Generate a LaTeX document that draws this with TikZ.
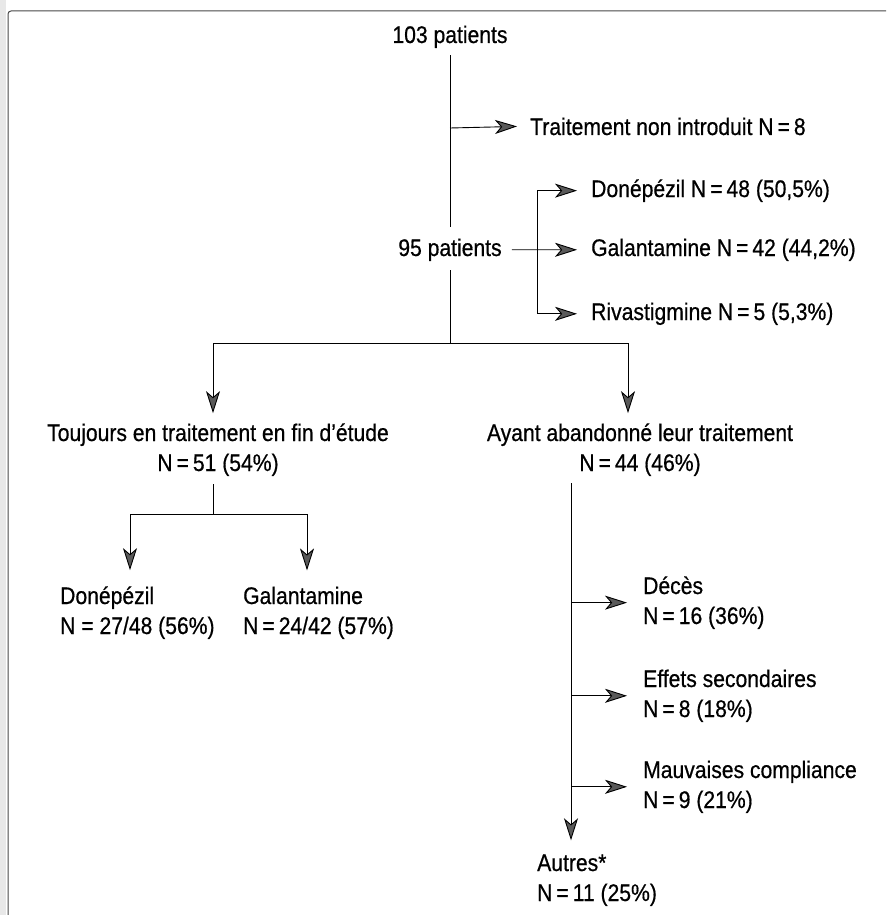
\documentclass[tikz,border=0pt]{standalone}
\usepackage{fontspec}
\setmainfont[FakeStretch=0.88,FakeBold=0.6]{Liberation Sans}
\usetikzlibrary{arrows.meta}
\tikzset{
  txt/.style={font=\fontsize{24}{30}\selectfont, inner sep=0pt},
  conn/.style={line width=0.9pt, draw=black},
  arr/.style={conn, -{Stealth[length=22pt,width=14pt,inset=6pt,fill=black!65]}},
  frame/.style={draw=gray!55!black, line width=1pt, rounded corners=3pt}
}
\begin{document}
\begin{tikzpicture}[x=1pt,y=-1pt]
\useasboundingbox (0,0) rectangle (886,915);
\fill[gray!18] (0,0) rectangle (6,915);
\draw[frame] (8,915) -- (8,11) -- (886,11);

% nodes (two-line nodes are placed by the baseline of their last line)
\node[txt, anchor=base] (n103) at (450,43) {103 patients};
\node[txt, anchor=base west] (ntr) at (530,135) {Traitement non introduit N\,=\,8};
\node[txt, anchor=base] (n95) at (450,256) {95 patients};
\node[txt, anchor=base west] (ndon) at (591,197) {Donépézil N\,=\,48 (50,5\%)};
\node[txt, anchor=base west] (ngal) at (591,256) {Galantamine N\,=\,42 (44,2\%)};
\node[txt, anchor=base west] (nriv) at (591,320) {Rivastigmine N\,=\,5 (5,3\%)};
\node[txt, anchor=base, align=center] (ntouj) at (218,471) {Toujours en traitement en fin d’étude\\N\,=\,51 (54\%)};
\node[txt, anchor=base, align=center] (nayant) at (640,471) {Ayant abandonné leur traitement\\N\,=\,44 (46\%)};
\node[txt, anchor=base west, align=left] (ndon2) at (60,634) {Donépézil\\N = 27/48 (56\%)};
\node[txt, anchor=base west, align=left] (ngal2) at (243,634) {Galantamine\\N\,=\,24/42 (57\%)};
\node[txt, anchor=base west, align=left] (ndec) at (643,624) {Décès\\N\,=\,16 (36\%)};
\node[txt, anchor=base west, align=left] (neff) at (643,717) {Effets secondaires\\N\,=\,8 (18\%)};
\node[txt, anchor=base west, align=left] (nmau) at (643,808) {Mauvaises compliance\\N\,=\,9 (21\%)};
\node[txt, anchor=base west, align=left] (naut) at (537,901) {Autres*\\N\,=\,11 (25\%)};

% junctions
\coordinate (jt) at (450,128);
\coordinate (bk) at (537,248);
\coordinate (js) at (450,343);
\coordinate (jl) at (213,514);
\coordinate (rv) at (571,483);

% top trunk
\draw[conn] ([yshift=-7pt]n103.south) -- ([yshift=11pt]n95.north);
\draw[arr] (jt) -- ([xshift=-13pt]ntr.west);

% three treatments
\draw[arr] ([xshift=10pt]n95.east) -- ([xshift=-14pt]ngal.west);
\draw[arr] (bk) |- ([xshift=-14pt]ndon.west);
\draw[arr] (bk) |- ([xshift=-14pt]nriv.west);

% split
\draw[conn] ([yshift=-9pt]n95.south) -- (js);
\draw[arr] (js) -| ([xshift=-5pt,yshift=10pt]ntouj.north);
\draw[arr] (js) -| ([xshift=-12pt,yshift=10pt]nayant.north);

% left sub-branch
\draw[conn] ([xshift=-5pt,yshift=-8pt]ntouj.south) -- (jl);
\draw[arr] (jl) -| ([xshift=70pt,yshift=16pt]ndon2.north west);
\draw[arr] (jl) -| ([xshift=64pt,yshift=16pt]ngal2.north west);

% right sub-branch
\draw[arr] ([xshift=-69pt,yshift=-7pt]nayant.south) -- ([xshift=34pt,yshift=14pt]naut.north west);
\draw[arr] (rv |- ndec.west) -- ([xshift=-16pt]ndec.west);
\draw[arr] (rv |- neff.west) -- ([xshift=-16pt]neff.west);
\draw[arr] (rv |- nmau.west) -- ([xshift=-16pt]nmau.west);
\end{tikzpicture}
\end{document}
